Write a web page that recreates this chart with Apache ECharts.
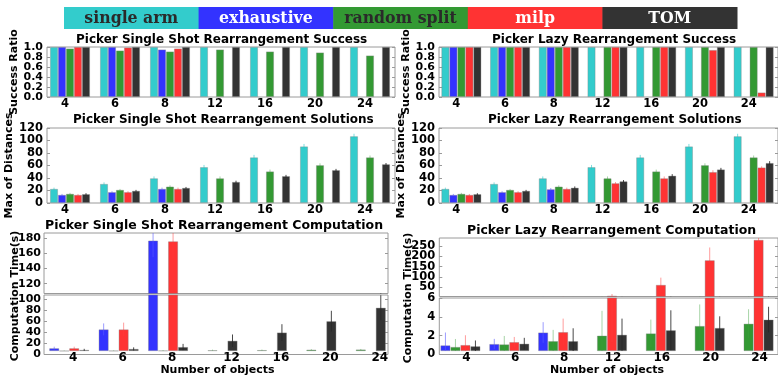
<!DOCTYPE html>
<html><head><meta charset="utf-8">
<script src="https://cdn.jsdelivr.net/npm/echarts@6/dist/echarts.min.js"></script>
<style>html,body{margin:0;padding:0;background:#fff}#c{width:778px;height:377px}</style>
</head><body><div id="c"></div>
<script>
// ---------- DATA ----------
const categories = ['4','6','8','12','16','20','24'];
const methodNames = ['single arm','exhaustive','random split','milp','TOM'];

// Success ratio - single shot
const ssSucSingle = [1,1,1,1,1,1,1];
const ssSucExh    = [1,1,0.95,null,null,null,null];
const ssSucRand   = [0.97,0.93,0.91,0.95,0.91,0.89,0.83];
const ssSucMilp   = [1,0.99,0.97,null,null,null,null];
const ssSucTom    = [1,1,1,1,1,1,1];
// Success ratio - lazy
const lzSucSingle = [1,1,1,1,1,1,1];
const lzSucExh    = [1,1,1,null,null,null,null];
const lzSucRand   = [1,1,1,1,1,1,1];
const lzSucMilp   = [1,1,1,1,1,0.94,0.09];
const lzSucTom    = [1,1,1,1,1,1,1];

// Max of distances - single shot
const ssDistSingle = [22.6,30.5,39.5,57.4,73,90.5,106.8];
const ssDistExh    = [13,17.4,22.6,null,null,null,null];
const ssDistRand   = [14.7,21,26.3,39.5,50.5,60.5,73];
const ssDistMilp   = [13,17.4,22.6,null,null,null,null];
const ssDistTom    = [14.2,19.5,24.2,33.7,43,52.6,62];
const ssDistSingleErr = [2,2.5,3,3.5,4,4,4];
const ssDistExhErr    = [1.5,1.5,2,null,null,null,null];
const ssDistRandErr   = [1.5,1.5,2,3,3,3,3];
const ssDistMilpErr   = [1.5,1.5,2,null,null,null,null];
const ssDistTomErr    = [1.5,1.5,1.5,2,2,2,2];
// Max of distances - lazy
const lzDistSingle = [22.6,30.5,39.5,57.4,73,90.5,106.8];
const lzDistExh    = [13,17.4,22,null,null,null,null];
const lzDistRand   = [14.7,21,26.3,39.5,50.5,60.5,73];
const lzDistMilp   = [13,17.4,22.6,31.6,39.5,49.5,56.8];
const lzDistTom    = [14.2,19.5,24.5,34.7,43.7,53.7,64];
const lzDistSingleErr = [2,2.5,3,3.5,4,4,4];
const lzDistExhErr    = [1.5,1.5,2,null,null,null,null];
const lzDistRandErr   = [1.5,1.5,2,3,3,3,3];
const lzDistMilpErr   = [1.5,1.5,2,2,3,3,2];
const lzDistTomErr    = [1.5,1.5,2,2,2.5,2.5,3];

// Computation time - single shot
const ssTimeExh  = [5.5,41.8,177,null,null,null,null];
const ssTimeRand = [0.5,0.7,1.1,1.8,2.0,2.8,3.1];
const ssTimeMilp = [5.5,41.8,176,null,null,null,null];
const ssTimeTom  = [2.4,4.2,7.9,20,35.8,57.6,83.6];
const ssTimeExhErr  = [3,11.5,22,null,null,null,null];
const ssTimeRandErr = [0.5,0.5,0.8,1,1,1,1];
const ssTimeMilpErr = [3,13,22,null,null,null,null];
const ssTimeTomErr  = [2,3,6,12,16,20,24];
// Computation time - lazy
const lzTimeExh  = [0.65,0.8,2.1,null,null,null,null];
const lzTimeRand = [0.47,0.76,1.13,1.75,2.0,2.84,3.1];
const lzTimeMilp = [0.69,1.02,2.15,9,61.5,181,280];
const lzTimeTom  = [0.55,0.84,1.13,1.85,2.36,2.62,3.56];
const lzTimeExhErr  = [1.45,0.58,1.17,null,null,null,null];
const lzTimeRandErr = [0.9,0.95,1.27,2.8,1.56,2.43,1.63];
const lzTimeMilpErr = [1.1,0.58,1.52,8,35,62,15];
const lzTimeTomErr  = [0.65,0.66,1.45,1.82,2.25,1.31,1.45];

// axis tick labels
const ratioTicks = [0,0.2,0.4,0.6,0.8,1.0];
const distTicks = [0,20,40,60,80,100,120];
const ssTimeUpperTicks = [120,140,160,180];
const ssTimeLowerTicks = [0,20,40,60,80,100];
const lzTimeUpperTicks = [50,100,150,200,250];
const lzTimeLowerTicks = [0,2,4,6];

// ---------- STYLE ----------
const methodColors = ['#33cccc','#3333ff','#339933','#ff3333','#333333'];
const errColors = ['rgba(40,200,200,0.6)','rgba(90,90,255,0.6)','rgba(60,160,60,0.45)','rgba(255,60,60,0.5)','rgba(40,40,40,0.85)'];
const legendTextColors = ['#2a2a2a','#ffffff','#2a2a2a','#ffffff','#ffffff'];
const FONT = "'DejaVu Sans'";
const FRAME = '#9a9a9a';
const lbl = (fs) => ({fontFamily: FONT, fontWeight: 'bold', fontSize: fs, color: '#000'});
const S = (k, values, errs) => ({name: methodNames[k], color: methodColors[k], errColor: errColors[k], values, errs});

const grids = [], xAxis = [], yAxis = [], series = [];

function addFrame(box, yc) {
  const gi = grids.length;
  grids.push({left: box.l, top: box.t, width: box.w, height: box.h, show: true, borderColor: FRAME, borderWidth: 1});
  xAxis.push({type: 'value', gridIndex: gi, show: false, min: 0, max: 1});
  const tick = {show: true, inside: true, length: 3, lineStyle: {color: FRAME}, customValues: yc.ticks};
  const even = yc.ticks.filter((v, i) => i % 2 === 0), odd = yc.ticks.filter((v, i) => i % 2 === 1);
  const labelCfg = (vals) => Object.assign({show: true, margin: yc.margin, customValues: vals, formatter: yc.fmt,
      showMinLabel: true, showMaxLabel: true, hideOverlap: false}, lbl(yc.fs));
  // two label layers (alternate ticks) so that tightly packed labels are all kept
  yAxis.push({type: 'value', gridIndex: gi, min: yc.min, max: yc.max, position: 'left',
    axisLine: {show: false}, splitLine: {show: false}, axisTick: tick, axisLabel: labelCfg(even),
    name: yc.name || '', nameLocation: 'middle', nameRotate: 90, nameGap: yc.nameGap || 0,
    nameTextStyle: lbl(11)});
  yAxis.push({type: 'value', gridIndex: gi, min: yc.min, max: yc.max, position: 'left', offset: 0,
    axisLine: {show: false}, splitLine: {show: false}, axisTick: {show: false}, axisLabel: labelCfg(odd)});
  yAxis.push({type: 'value', gridIndex: gi, min: yc.min, max: yc.max, position: 'right',
    axisLine: {show: false}, splitLine: {show: false}, axisLabel: {show: false}, axisTick: tick});
}

function addBars(box, ymin, ymax, list, bw, xl) {
  const gi = grids.length;
  grids.push({left: box.l, top: box.t, width: box.w, height: box.h, show: false});
  const xi = xAxis.length;
  const axisLabel = xl ? Object.assign({show: true, interval: 0, margin: xl.margin, padding: xl.padding || 0,
      formatter: xl.fmt, rich: xl.rich, hideOverlap: false}, lbl(xl.fs)) : {show: false};
  xAxis.push({type: 'category', gridIndex: gi, data: categories,
    axisLine: {show: false}, axisTick: {show: false}, splitLine: {show: false}, axisLabel,
    name: (xl && xl.name) || '', nameLocation: 'middle', nameGap: xl ? (xl.nameGap || 0) : 0,
    nameTextStyle: lbl(11)});
  const yi = yAxis.length;
  yAxis.push({type: 'value', gridIndex: gi, min: ymin, max: ymax, show: false});
  const n = list.length;
  list.forEach((s, k) => {
    series.push({type: 'bar', name: s.name, xAxisIndex: xi, yAxisIndex: yi, data: s.values,
      barWidth: bw, barGap: '0%', clip: true, silent: true,
      itemStyle: {color: s.color, borderColor: 'rgba(130,130,130,0.45)', borderWidth: 0.8}});
    if (s.errs) {
      const d = [];
      s.values.forEach((v, i) => { if (v != null && s.errs[i] != null) d.push([i, v, s.errs[i]]); });
      const off = (k - (n - 1) / 2) * bw;
      series.push({type: 'custom', xAxisIndex: xi, yAxisIndex: yi, clip: true, silent: true, z: 3,
        data: d, encode: {x: 0, y: 1},
        renderItem: (p, api) => {
          const i = api.value(0), v = api.value(1), e = api.value(2);
          const x = api.coord([i, v])[0] + off;
          const yt = api.coord([i, v + e])[1];
          const yb = api.coord([i, Math.max(v - e, 0)])[1];
          return {type: 'line', shape: {x1: x, y1: yt, x2: x, y2: yb}, style: {stroke: s.errColor, lineWidth: 1}};
        }});
    }
  });
}

// ---------- PANELS ----------
const r1 = {t: 47, h: 50}, r2 = {t: 128, h: 75};
const topLabel = {fs: 11.5, margin: 1, padding: [0, 10, 0, 0]};
const ratioY = {min: 0, max: 1, ticks: ratioTicks, fs: 11, margin: 4, fmt: v => v.toFixed(1)};
const distY = {min: 0, max: 120, ticks: distTicks, fs: 11.5, margin: 4};

// Row 1
addFrame({l: 47, t: r1.t, w: 348, h: r1.h}, Object.assign({name: 'Success Ratio', nameGap: 22.5}, ratioY));
addBars({l: 45, t: r1.t, w: 350, h: r1.h}, 0, 1,
  [S(0, ssSucSingle), S(1, ssSucExh), S(2, ssSucRand), S(3, ssSucMilp), S(4, ssSucTom)], 8, topLabel);
addFrame({l: 439, t: r1.t, w: 348, h: r1.h}, Object.assign({name: 'Success Ratio', nameGap: 23.5}, ratioY));
addBars({l: 437, t: r1.t, w: 350, h: r1.h}, 0, 1,
  [S(0, lzSucSingle), S(1, lzSucExh), S(2, lzSucRand), S(3, lzSucMilp), S(4, lzSucTom)], 8, topLabel);

// Row 2
addFrame({l: 47, t: r2.t, w: 348, h: r2.h}, Object.assign({name: 'Max of Distances', nameGap: 22}, distY));
addBars({l: 45, t: r2.t, w: 350, h: r2.h}, 0, 120,
  [S(0, ssDistSingle, ssDistSingleErr), S(1, ssDistExh, ssDistExhErr), S(2, ssDistRand, ssDistRandErr),
   S(3, ssDistMilp, ssDistMilpErr), S(4, ssDistTom, ssDistTomErr)], 8, topLabel);
addFrame({l: 439, t: r2.t, w: 348, h: r2.h}, Object.assign({name: 'Max of Distances', nameGap: 24}, distY));
addBars({l: 437, t: r2.t, w: 350, h: r2.h}, 0, 120,
  [S(0, lzDistSingle, lzDistSingleErr), S(1, lzDistExh, lzDistExhErr), S(2, lzDistRand, lzDistRandErr),
   S(3, lzDistMilp, lzDistMilpErr), S(4, lzDistTom, lzDistTomErr)], 8, topLabel);

// Row 3 left (broken axis)
const ssTimeList = () => [S(1, ssTimeExh, ssTimeExhErr), S(2, ssTimeRand, ssTimeRandErr),
  S(3, ssTimeMilp, ssTimeMilpErr), S(4, ssTimeTom, ssTimeTomErr)];
const ssUp = {l: 44, t: 233, w: 344, h: 60.5}, ssLo = {l: 44, t: 295, w: 344, h: 59.5};
addFrame(ssUp, {min: 107, max: 187, ticks: ssTimeUpperTicks, fs: 11, margin: 3});
addFrame(ssLo, {min: 0, max: 108, ticks: ssTimeLowerTicks, fs: 11, margin: 3});
addBars({l: 44.5, t: ssUp.t, w: 346, h: ssUp.h}, 107, 187, ssTimeList(), 10, null);
addBars({l: 44.5, t: ssLo.t, w: 346, h: ssLo.h}, 0, 108, ssTimeList(), 10,
  {fs: 12, margin: 1, name: 'Number of objects', nameGap: 11.5,
   fmt: (v, i) => (i < 3 ? '{a|' : '{b|') + v + '}',
   rich: {a: Object.assign({padding: [0, 0, 0, 8]}, lbl(12)), b: Object.assign({padding: [0, 0, 0, 28]}, lbl(12))}});

// Row 3 right (broken axis)
const lzTimeList = () => [S(1, lzTimeExh, lzTimeExhErr), S(2, lzTimeRand, lzTimeRandErr),
  S(3, lzTimeMilp, lzTimeMilpErr), S(4, lzTimeTom, lzTimeTomErr)];
const lzUp = {l: 439.3, t: 238, w: 345, h: 58.5}, lzLo = {l: 439.3, t: 298, w: 345, h: 56.5};
addFrame(lzUp, {min: 5, max: 289, ticks: lzTimeUpperTicks, fs: 11.5, margin: 4});
addFrame(lzLo, {min: 0, max: 6, ticks: lzTimeLowerTicks, fs: 11.5, margin: 4});
addBars({l: 436, t: lzUp.t, w: 345, h: lzUp.h}, 5, 289, lzTimeList(), 10, null);
addBars({l: 436, t: lzLo.t, w: 345, h: lzLo.h}, 0, 6, lzTimeList(), 10,
  {fs: 12, margin: 1, padding: [0, 0, 0, 12], name: 'Number of objects', nameGap: 11.5});

// ---------- TITLES ----------
const titleStyle = (fs) => ({fontFamily: FONT, fontWeight: 'bold', fontSize: fs, color: '#000'});
const titles = [
  {text: 'Picker Single Shot Rearrangement Success', left: 76, top: 34, padding: 0, textStyle: titleStyle(12)},
  {text: 'Picker Lazy Rearrangement Success', left: 492, top: 34, padding: 0, textStyle: titleStyle(12)},
  {text: 'Picker Single Shot Rearrangement Solutions', left: 73, top: 114, padding: 0, textStyle: titleStyle(12)},
  {text: 'Picker Lazy Rearrangement Solutions', left: 488, top: 114, padding: 0, textStyle: titleStyle(12)},
  {text: 'Picker Single Shot Rearrangement Computation', left: 45, top: 219, padding: 0, textStyle: titleStyle(12.5)},
  {text: 'Picker Lazy Rearrangement Computation', left: 467, top: 224.5, padding: 0, textStyle: titleStyle(12.5)}
];

// ---------- LEGEND (boxes) + broken-axis y titles ----------
const graphic = [];
const legX0 = 64, legW = 134.6, legTop = 7, legH = 22;
methodNames.forEach((nm, i) => {
  graphic.push({type: 'rect', left: legX0 + i * legW, top: legTop, shape: {width: legW + 0.5, height: legH},
    style: {fill: methodColors[i]}, silent: true});
  graphic.push({type: 'text', x: legX0 + i * legW + legW / 2, y: legTop + legH / 2 + 0.5, silent: true,
    style: {text: nm, fill: legendTextColors[i], align: 'center', verticalAlign: 'middle',
      font: 'bold 17.5px "DejaVu Serif Condensed", "DejaVu Serif", serif'}});
});
[[15, 296], [408, 298]].forEach(p => {
  graphic.push({type: 'text', x: p[0], y: p[1], rotation: Math.PI / 2, silent: true,
    style: {text: 'Computation Time(s)', fill: '#000', align: 'center', verticalAlign: 'middle',
      font: 'bold 11px "DejaVu Sans"'}});
});

const chart = echarts.init(document.getElementById('c'), null, {renderer: 'canvas'});
chart.setOption({
  animation: false,
  backgroundColor: '#fff',
  title: titles,
  grid: grids, xAxis, yAxis, series, graphic
});
</script></body></html>
